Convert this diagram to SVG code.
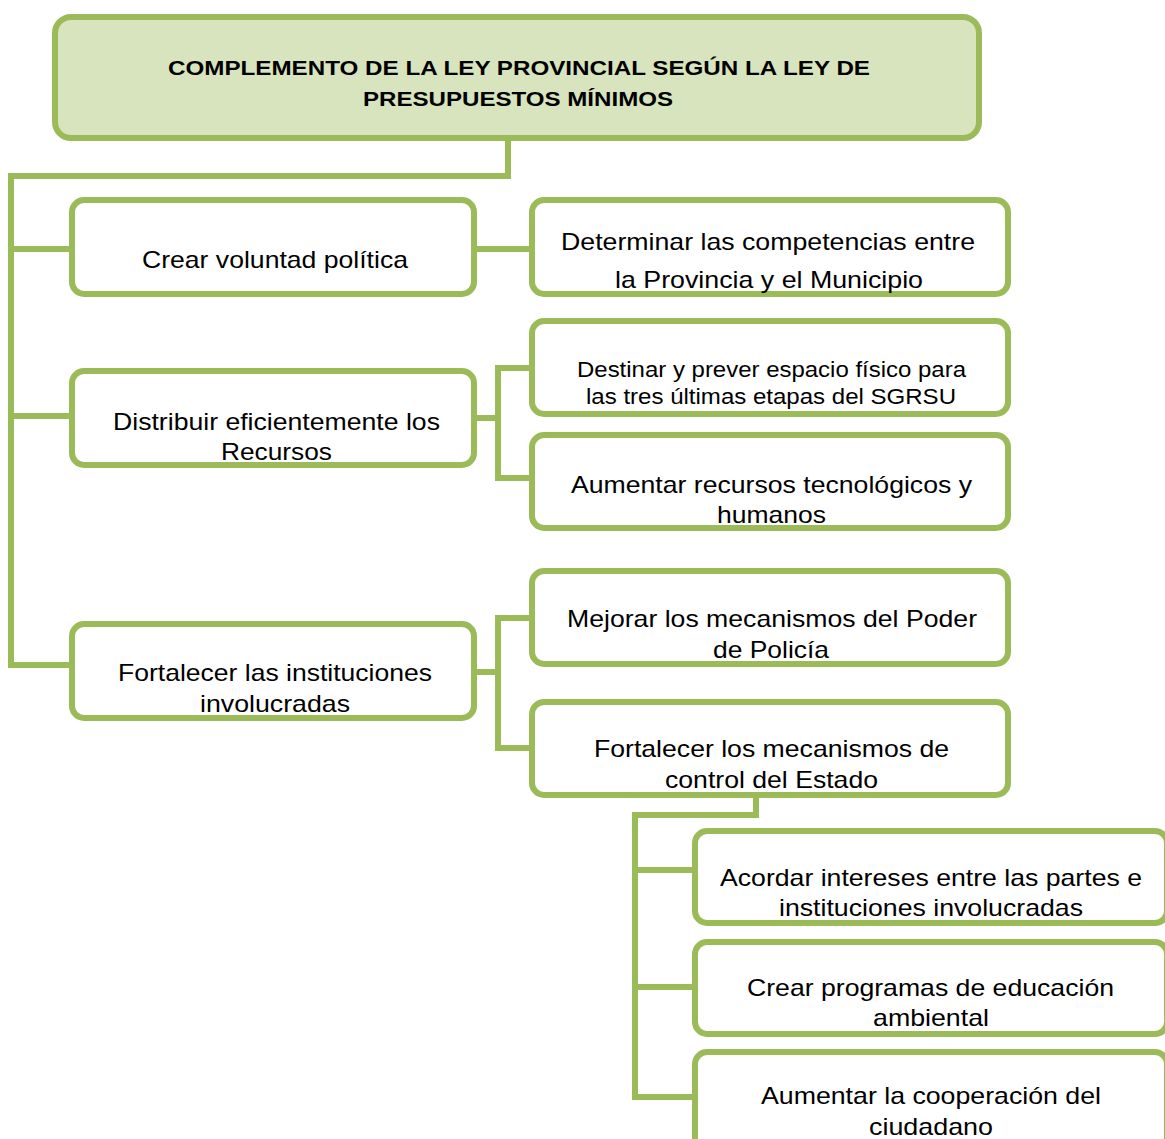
<svg xmlns="http://www.w3.org/2000/svg" width="1165" height="1139" viewBox="0 0 1165 1139">
<style>
.box{fill:#ffffff;stroke:#9bbb59;stroke-width:6}
.title{fill:#d7e4bd;stroke:#9bbb59;stroke-width:6}
.conn{fill:none;stroke:#9bbb59;stroke-width:6;stroke-linejoin:miter;stroke-linecap:square}
text{font-family:"Liberation Sans",Arial,sans-serif;fill:#000;text-anchor:middle}
.t{font-size:24px}
.s{font-size:22px}
.b{font-size:20px;font-weight:bold}
</style>
<rect width="1165" height="1139" fill="#ffffff"/>
<g id="connectors">
<path class="conn" d="M508,141 V176 H11 V665 H70"/>
<path class="conn" d="M11,249 H70"/>
<path class="conn" d="M11,416 H70"/>
<path class="conn" d="M476,249 H530"/>
<path class="conn" d="M476,418 H498 M498,368 V478 M498,368 H530 M498,478 H530"/>
<path class="conn" d="M476,672 H498 M498,618 V748 M498,618 H530 M498,748 H530"/>
<path class="conn" d="M756,797 V815 H635 V1097 H693"/>
<path class="conn" d="M635,870 H693"/>
<path class="conn" d="M635,987 H693"/>
</g>
<g id="n0"><rect class="title" x="55" y="17" width="924" height="121" rx="16"/>
<text class="b" x="519" y="75" textLength="702" lengthAdjust="spacingAndGlyphs">COMPLEMENTO DE LA LEY PROVINCIAL SEGÚN LA LEY DE</text>
<text class="b" x="518" y="106" textLength="310" lengthAdjust="spacingAndGlyphs">PRESUPUESTOS MÍNIMOS</text></g>
<g id="n1"><rect class="box" x="72" y="200" width="402" height="94" rx="12"/>
<text class="t" x="275" y="268" textLength="266" lengthAdjust="spacingAndGlyphs">Crear voluntad política</text></g>
<g id="n2"><rect class="box" x="72" y="371" width="402" height="94" rx="12"/>
<text class="t" x="276.5" y="430" textLength="327" lengthAdjust="spacingAndGlyphs">Distribuir eficientemente los</text>
<text class="t" x="276.5" y="460" textLength="111" lengthAdjust="spacingAndGlyphs">Recursos</text></g>
<g id="n3"><rect class="box" x="72" y="624" width="402" height="94" rx="12"/>
<text class="t" x="275" y="681" textLength="314" lengthAdjust="spacingAndGlyphs">Fortalecer las instituciones</text>
<text class="t" x="275" y="712" textLength="150" lengthAdjust="spacingAndGlyphs">involucradas</text></g>
<g id="n4"><rect class="box" x="532" y="200" width="476" height="94" rx="12"/>
<text class="t" x="768" y="250" textLength="414" lengthAdjust="spacingAndGlyphs">Determinar las competencias entre</text>
<text class="t" x="769" y="288" textLength="308" lengthAdjust="spacingAndGlyphs">la Provincia y el Municipio</text></g>
<g id="n5"><rect class="box" x="532" y="321" width="476" height="93" rx="12"/>
<text class="s" x="771.5" y="377" textLength="389" lengthAdjust="spacingAndGlyphs">Destinar y prever espacio físico para</text>
<text class="s" x="771" y="404" textLength="370" lengthAdjust="spacingAndGlyphs">las tres últimas etapas del SGRSU</text></g>
<g id="n6"><rect class="box" x="532" y="435" width="476" height="93" rx="12"/>
<text class="t" x="771.5" y="493" textLength="401" lengthAdjust="spacingAndGlyphs">Aumentar recursos tecnológicos y</text>
<text class="t" x="771.5" y="523" textLength="109" lengthAdjust="spacingAndGlyphs">humanos</text></g>
<g id="n7"><rect class="box" x="532" y="571" width="476" height="93" rx="12"/>
<text class="t" x="772" y="627" textLength="410" lengthAdjust="spacingAndGlyphs">Mejorar los mecanismos del Poder</text>
<text class="t" x="771" y="658" textLength="116" lengthAdjust="spacingAndGlyphs">de Policía</text></g>
<g id="n8"><rect class="box" x="532" y="702" width="476" height="93" rx="12"/>
<text class="t" x="771.5" y="757" textLength="355" lengthAdjust="spacingAndGlyphs">Fortalecer los mecanismos de</text>
<text class="t" x="771.5" y="788" textLength="213" lengthAdjust="spacingAndGlyphs">control del Estado</text></g>
<g id="n9"><rect class="box" x="695" y="831" width="472" height="92" rx="12"/>
<text class="t" x="931" y="886" textLength="422" lengthAdjust="spacingAndGlyphs">Acordar intereses entre las partes e</text>
<text class="t" x="931" y="916" textLength="304" lengthAdjust="spacingAndGlyphs">instituciones involucradas</text></g>
<g id="n10"><rect class="box" x="695" y="942" width="472" height="92" rx="12"/>
<text class="t" x="930.5" y="996" textLength="367" lengthAdjust="spacingAndGlyphs">Crear programas de educación</text>
<text class="t" x="931" y="1026" textLength="116" lengthAdjust="spacingAndGlyphs">ambiental</text></g>
<g id="n11"><rect class="box" x="695" y="1052" width="472" height="100" rx="12"/>
<text class="t" x="931" y="1104" textLength="340" lengthAdjust="spacingAndGlyphs">Aumentar la cooperación del</text>
<text class="t" x="931" y="1135" textLength="124" lengthAdjust="spacingAndGlyphs">ciudadano</text></g>
</svg>
